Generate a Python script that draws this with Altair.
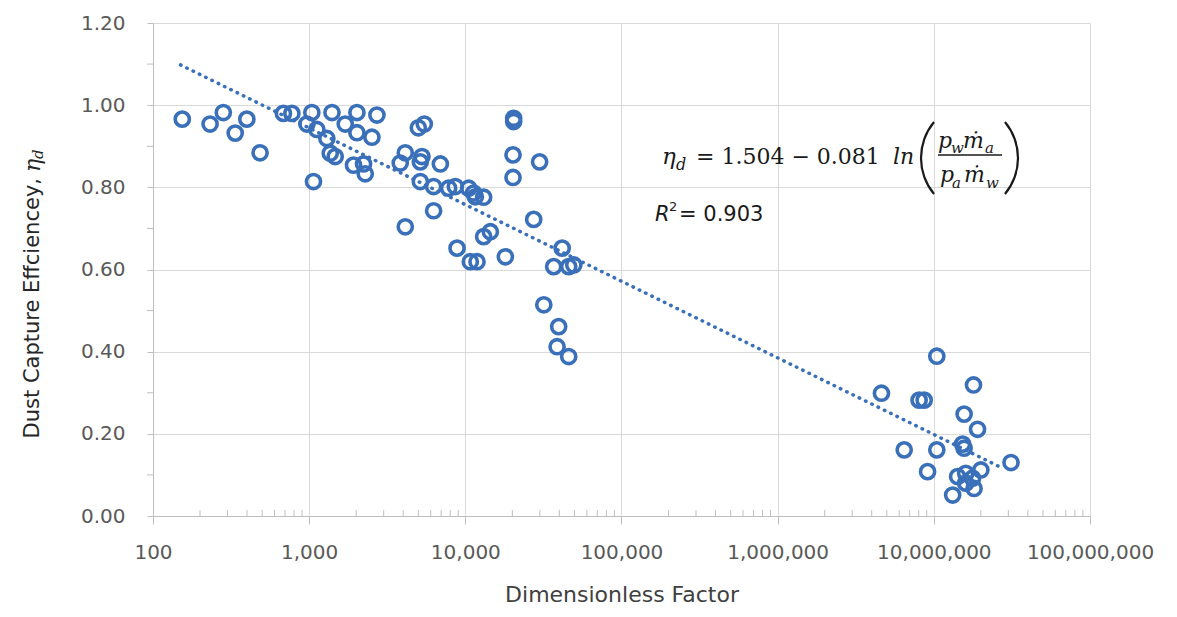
import altair as alt
import pandas as pd
import math

# ---- data ----
factor = [154, 232, 282, 336, 399, 485, 684, 775, 1040, 967, 1120, 1066, 1400, 1298,
          1364, 1468, 1702, 2022, 2022, 2522, 2716, 1923, 2230, 2286, 3830, 4125,
          5000, 5460, 5275, 5150, 6918, 5150, 6265, 7816, 8630, 10500, 11300, 11590,
          13100, 6265, 4125, 20400, 20400, 20200, 20200, 29900, 27400, 8850, 10760,
          11880, 13100, 14460, 18040, 41700, 36800, 45900, 49500, 31800, 39600, 38700,
          45900,
          4.62e6, 8.05e6, 8.67e6, 1.045e7, 1.795e7, 1.563e7, 1.905e7, 1.528e7, 1.563e7,
          6.46e6, 1.045e7, 3.12e7, 9.12e6, 2.0e7, 1.42e7, 1.60e7, 1.77e7, 1.60e7,
          1.81e7, 1.32e7]
efficiency = [0.966, 0.954, 0.982, 0.932, 0.966, 0.884, 0.980, 0.980, 0.982, 0.954,
              0.941, 0.814, 0.982, 0.919, 0.883, 0.875, 0.954, 0.982, 0.933, 0.922,
              0.976, 0.854, 0.857, 0.833, 0.859, 0.884, 0.945, 0.954, 0.875, 0.862,
              0.857, 0.814, 0.802, 0.798, 0.802, 0.798, 0.786, 0.777, 0.776, 0.743,
              0.704, 0.968, 0.960, 0.879, 0.824, 0.862, 0.722, 0.652, 0.619, 0.619,
              0.680, 0.692, 0.631, 0.652, 0.607, 0.607, 0.611, 0.514, 0.461, 0.412,
              0.388,
              0.299, 0.282, 0.282, 0.389, 0.319, 0.248, 0.211, 0.175, 0.165, 0.161,
              0.161, 0.130, 0.108, 0.112, 0.096, 0.104, 0.092, 0.080, 0.067, 0.051]

trend_x = [150, 27000000]
trend_y = [1.098, 0.118]

x_ticks = [100, 1000, 10000, 100000, 1000000, 10000000, 100000000]
y_ticks = [0.0, 0.2, 0.4, 0.6, 0.8, 1.0, 1.2]
x_minor = [m * 10 ** e for e in range(2, 8) for m in range(2, 10)]
y_minor = [0.1, 0.3, 0.5, 0.7, 0.9, 1.1]

BLUE = "#3a70b9"
GRID = "#d9d9d9"
AXIS = "#bfbfbf"
W, H = 937, 493
OX, OY = 153, 23  # page position of plot origin

pts = pd.DataFrame({"x": factor, "y": efficiency})
trend = pd.DataFrame({"x": trend_x, "y": trend_y})

xscale = alt.Scale(type="log", domain=[100, 100000000], nice=False)
yscale = alt.Scale(domain=[0, 1.2], nice=False)

xaxis = alt.Axis(values=x_ticks, format=",", grid=True, gridColor=GRID, gridWidth=1,
                 domainColor=AXIS, tickColor=AXIS, tickSize=8, labelFont="DejaVu Sans",
                 labelFontSize=20, labelColor="#595959", labelPadding=18, labelFlush=False,
                 labelOverlap=False, title="Dimensionless Factor", titleFont="DejaVu Sans",
                 titleFontSize=22, titleFontWeight="normal", titleColor="#404040",
                 titlePadding=22)
yaxis = alt.Axis(values=y_ticks, format=".2f", grid=True, gridColor=GRID, gridWidth=1,
                 domainColor=AXIS, tickColor=AXIS, tickSize=6, labelFont="DejaVu Sans",
                 labelFontSize=20, labelColor="#595959", labelPadding=22, title="")

X = alt.X("x:Q", scale=xscale, axis=xaxis)
Y = alt.Y("y:Q", scale=yscale, axis=yaxis)

points = alt.Chart(pts).mark_point(shape="circle", filled=False, size=200, strokeWidth=3.6,
                                   color=BLUE, opacity=1).encode(x=X, y=Y)

trendline = alt.Chart(trend).mark_line(strokeDash=[0.5, 6.5], strokeCap="round",
                                       strokeWidth=3.5, color=BLUE).encode(x=X, y=Y)

xminor = alt.Chart(pd.DataFrame({"x": x_minor})).mark_rule(color=AXIS, strokeWidth=1).encode(
    x=X, y=alt.value(H - 6), y2=alt.value(H),
)
yminor = alt.Chart(pd.DataFrame({"y": y_minor})).mark_rule(color=AXIS, strokeWidth=1).encode(
    y=Y, x=alt.value(-6), x2=alt.value(0),
)

one = alt.Data(values=[{"k": 1}])


def txt(s, px, py, size, font="DejaVu Serif", style="normal", align="left",
        baseline="alphabetic", angle=0, color="#1a1a1a"):
    return alt.Chart(one).mark_text(text=s, fontSize=size, font=font, fontStyle=style,
                                    align=align, baseline=baseline, angle=angle,
                                    color=color).encode(x=alt.value(px - OX), y=alt.value(py - OY))


def paren(cx, cy, r, t0, t1):
    return alt.Chart(one).mark_arc(innerRadius=r - 1.1, outerRadius=r + 1.1, theta=t0,
                                   theta2=t1, color="#1a1a1a").encode(
        x=alt.value(cx - OX), y=alt.value(cy - OY))


R = 56.3
half = math.asin(36 / R)

annot = [
    # y-axis title
    txt("Dust Capture Effciencey,", 33, 178, 21, font="DejaVu Sans", align="right",
        baseline="middle", angle=270, color="#262626"),
    txt("η", 33, 172, 22, style="italic", align="left", baseline="middle", angle=270,
        color="#262626"),
    txt("d", 38, 159, 15, style="italic", align="left", baseline="middle", angle=270,
        color="#262626"),
    # equation
    txt("η", 662, 164, 23, style="italic"),
    txt("d", 676, 170, 16, style="italic"),
    txt("= 1.504 − 0.081", 696, 164, 22),
    txt("ln", 893, 164, 22, style="italic"),
    paren(921 + R, 158, R, 1.5 * math.pi - half, 1.5 * math.pi + half),
    paren(1018 - R, 158, R, 0.5 * math.pi - half, 0.5 * math.pi + half),
    txt("p", 938, 148, 22, style="italic"),
    txt("w", 951, 153, 15, style="italic"),
    txt("ṁ", 963, 148, 22, style="italic"),
    txt("a", 985, 153, 15, style="italic"),
    txt("p", 940, 182, 22, style="italic"),
    txt("a", 952, 188, 15, style="italic"),
    txt("ṁ", 964, 182, 22, style="italic"),
    txt("w", 986, 188, 15, style="italic"),
    alt.Chart(one).mark_rule(color="#1a1a1a", strokeWidth=1.5).encode(
        x=alt.value(938 - OX), x2=alt.value(1002 - OX), y=alt.value(155 - OY)),
    # R^2
    txt("R", 655, 221, 21, font="DejaVu Sans", style="italic"),
    txt("2", 669, 211, 13, font="DejaVu Sans"),
    txt("= 0.903", 679, 221, 21, font="DejaVu Sans"),
]

chart = alt.layer(points, trendline, xminor, yminor, *annot).properties(
    width=W, height=H,
    autosize=alt.AutoSizeParams(type="none"),
    padding={"left": 145, "top": 15, "right": 79, "bottom": 93},
    background="white",
).configure_view(strokeWidth=0)

chart.save("out.html", embed_options={"renderer": "svg", "actions": False})
